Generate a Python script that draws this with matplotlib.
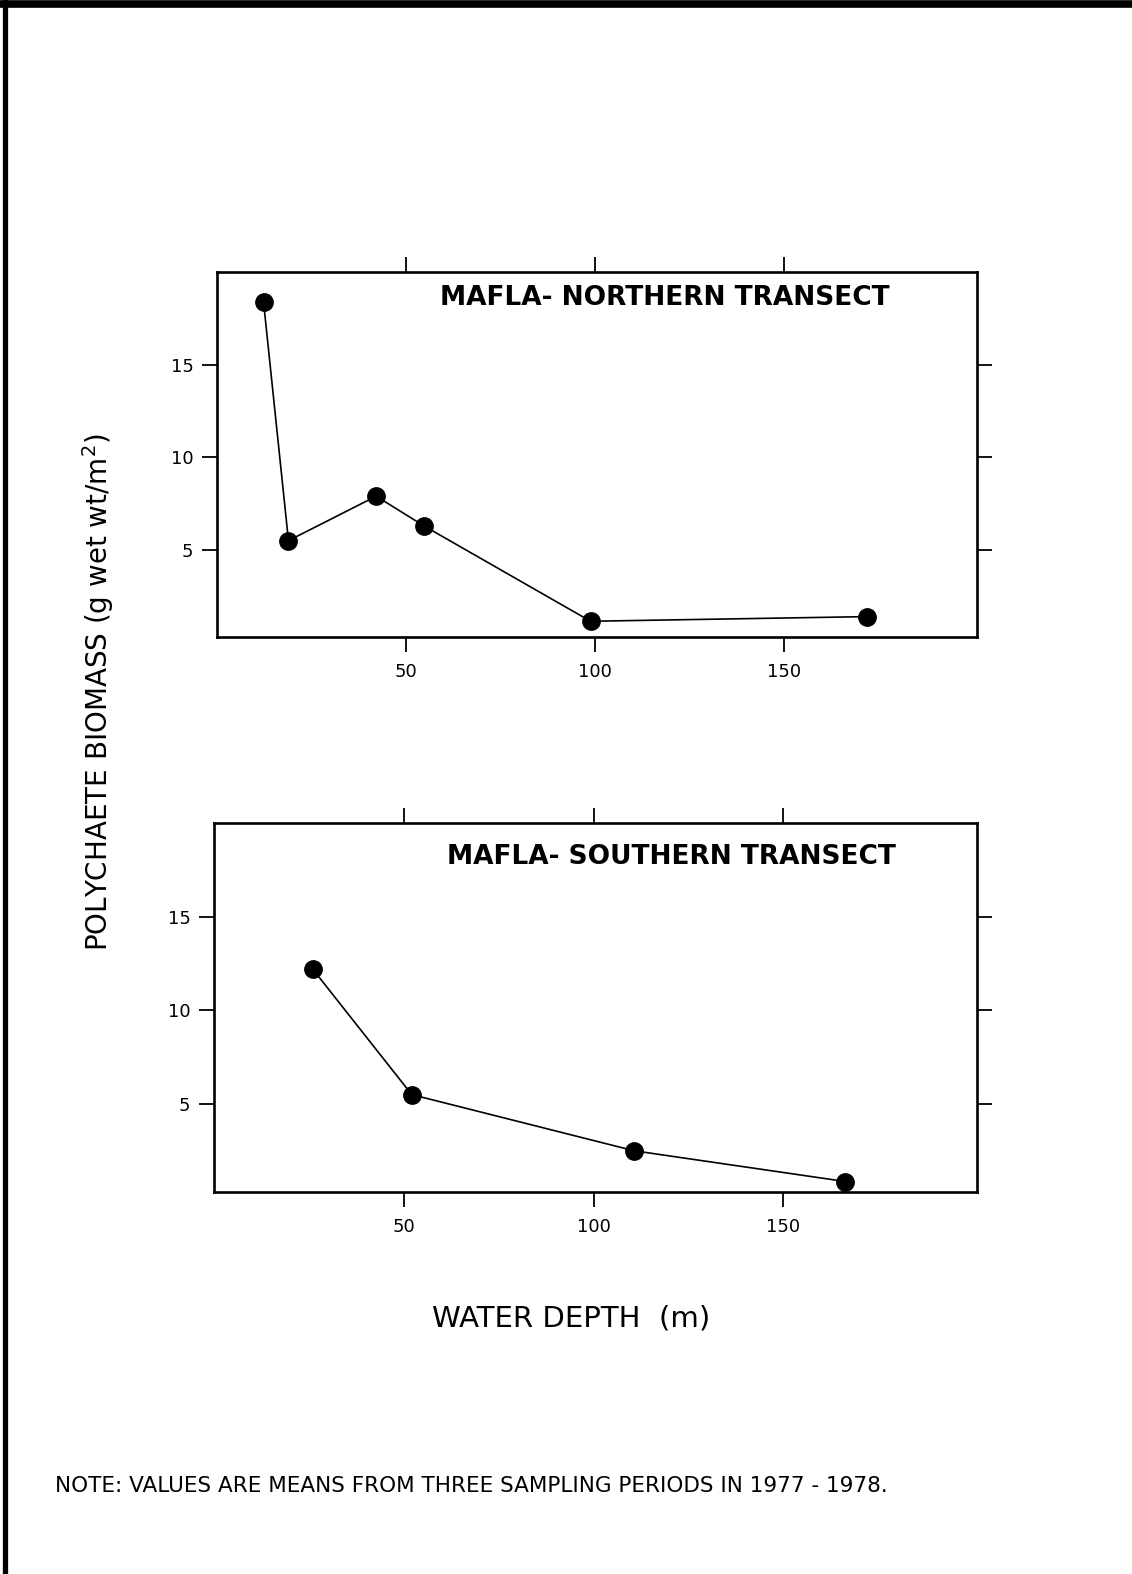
import matplotlib
matplotlib.use("Agg")
import matplotlib.pyplot as plt
from matplotlib.lines import Line2D

# ---- data ----
north_depth = [12.3, 18.9, 42.1, 54.7, 98.8, 171.9]
north_biomass = [18.4, 5.5, 7.9, 6.3, 1.15, 1.4]
south_depth = [26.0, 52.1, 110.7, 166.3]
south_biomass = [12.2, 5.5, 2.5, 0.86]

x_ticks = [50, 100, 150]
x_tick_labels = ["50", "100", "150"]
y_ticks = [5, 10, 15]
y_tick_labels = ["5", "10", "15"]

north_title = "MAFLA- NORTHERN TRANSECT"
south_title = "MAFLA- SOUTHERN TRANSECT"
y_label = "POLYCHAETE BIOMASS (g wet wt/m$^2$)"
x_label = "WATER DEPTH  (m)"
note = "NOTE: VALUES ARE MEANS FROM THREE SAMPLING PERIODS IN 1977 - 1978."

plt.rcParams['font.family'] = ['DejaVu Sans']

W, H = 1132, 1574
fig = plt.figure(figsize=(W / 100, H / 100), dpi=100)
fig.patch.set_facecolor("white")


def fx(px):
    return px / W


def fy(py):
    return 1 - py / H


def setup(ax):
    ax.set_xlim(0, 201)
    ax.set_ylim(0.3, 20)
    ax.set_xticks(x_ticks)
    ax.set_xticklabels(x_tick_labels)
    ax.set_yticks(y_ticks)
    ax.set_yticklabels(y_tick_labels)
    ax.tick_params(axis="both", direction="out", length=11, width=1.3,
                   labelsize=13, color="black", labelcolor="black",
                   top=True, right=True, labeltop=False, labelright=False)
    ax.tick_params(axis="x", pad=8)
    ax.tick_params(axis="y", pad=6)
    for s in ax.spines.values():
        s.set_linewidth(1.9)
        s.set_color("black")


# top panel
ax1 = fig.add_axes([fx(217), fy(637), fx(977) - fx(217), fy(272) - fy(637)])
setup(ax1)
ax1.plot(north_depth, north_biomass, color="black", lw=1.2, marker="o",
         markersize=12.5, markerfacecolor="black", markeredgecolor="black")
ax1.text(0.293, 0.93, north_title, transform=ax1.transAxes, ha="left",
         va="center", fontsize=19, fontweight="bold")

# bottom panel
ax2 = fig.add_axes([fx(214), fy(1192), fx(977) - fx(214), fy(823) - fy(1192)])
setup(ax2)
ax2.plot(south_depth, south_biomass, color="black", lw=1.2, marker="o",
         markersize=12.5, markerfacecolor="black", markeredgecolor="black")
ax2.text(0.305, 0.908, south_title, transform=ax2.transAxes, ha="left",
         va="center", fontsize=19, fontweight="bold")

# shared labels
fig.text(fx(98), fy(692), y_label, rotation=90, ha="center", va="center",
         fontsize=20)
fig.text(fx(571), fy(1318), x_label, ha="center", va="center", fontsize=21)
fig.text(fx(55), fy(1486), note, ha="left", va="center", fontsize=15.5)

# page border (top and left edges of the scanned page)
fig.add_artist(Line2D([0, 1], [fy(4), fy(4)], transform=fig.transFigure,
                      color="black", lw=5.5))
fig.add_artist(Line2D([fx(5), fx(5)], [0, 1], transform=fig.transFigure,
                      color="black", lw=3.8))

fig.savefig("out.png", dpi=100, facecolor="white")
